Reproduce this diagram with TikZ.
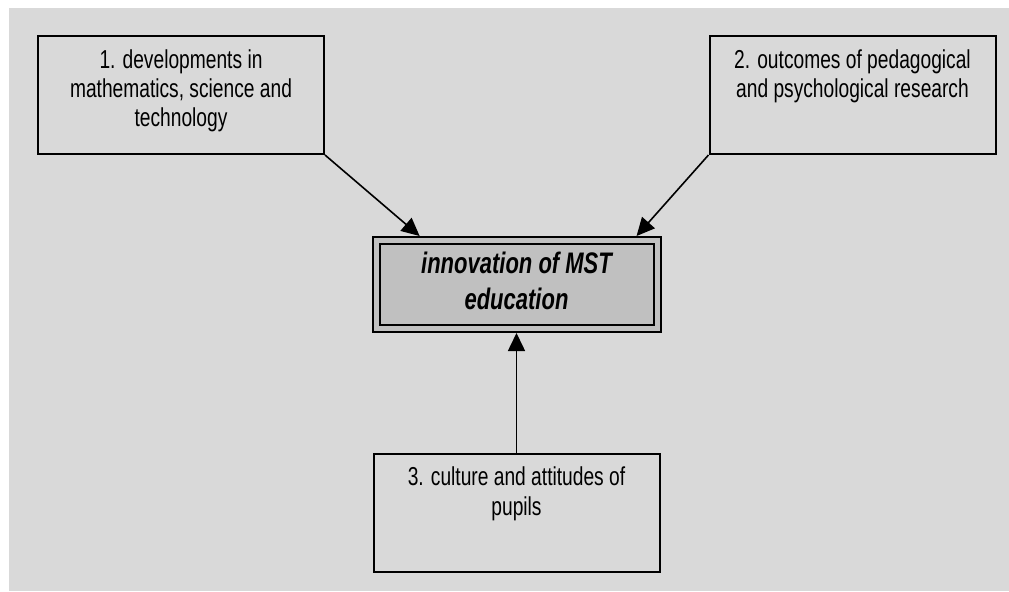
\documentclass[tikz,border=0pt]{standalone}
\usepackage{fontspec}
\setmainfont{Liberation Sans}
\usepackage{graphicx}
\usetikzlibrary{backgrounds,calc,arrows.meta}

\definecolor{panelgray}{RGB}{217,217,217}
\definecolor{innogray}{RGB}{192,192,192}

% text of a box, set at the top and stretched in height like the original
\newcommand{\boxtext}[1]{\parbox[c][59pt][t]{140pt}{\centering\vspace*{6pt}%
  \scalebox{1}[1.35]{\fontsize{9.6}{10.8}\selectfont\begin{tabular}{@{}c@{}}#1\end{tabular}}}}
\newcommand{\innotext}[1]{\scalebox{1}[1.35]{\fontsize{11}{13}\selectfont\begin{tabular}{@{}c@{}}#1\end{tabular}}}

\begin{document}
\begin{tikzpicture}[x=0.5pt,y=-0.5pt]
    % `source' is used by the three boxes of influences.
    % `innovation' is the double framed box in the middle.
    % `surround' is used for the background panel.
    \tikzstyle{source} = [draw,line width=1pt,fill=panelgray,minimum width=143pt,minimum height=59pt,inner sep=0pt]
    \tikzstyle{innovation} = [draw,line width=1pt,double=innogray,double distance=2.5pt,fill=innogray,minimum width=140.5pt,minimum height=44pt,inner sep=0pt,outer sep=2.25pt,font=\bfseries\itshape]
    \tikzstyle{surround} = [fill=panelgray]
    \tikzstyle{link} = [line width=0.8pt,-{Triangle[length=9pt,width=8.5pt]}]
    %
    \useasboundingbox (0,0) rectangle (1009,591);
    \node[source] (dev) at (181,95) {\boxtext{1. developments in\\ mathematics, science and\\ technology}};
    \node[source] (res) at (852.5,95) {\boxtext{2. outcomes of pedagogical\\ and psychological research}};
    \node[innovation] (inno) at (516.5,284.5) {\innotext{innovation of MST\\ education}};
    \node[source] (pup) at (516.5,512.5) {\boxtext{3. culture and attitudes of\\ pupils}};
    % arrows into the middle box
    \draw[link] (dev.south east) -- ($(inno.north west)!0.166!(inno.north east)$);
    \draw[link] (res.south west) -- ($(inno.north west)!0.914!(inno.north east)$);
    \draw[link] (pup.north) -- (inno.south);
    \begin{pgfonlayer}{background}
        % Draw background panel.
        \fill[surround] (9,8) rectangle (1009,591);
    \end{pgfonlayer}
\end{tikzpicture}
\end{document}
